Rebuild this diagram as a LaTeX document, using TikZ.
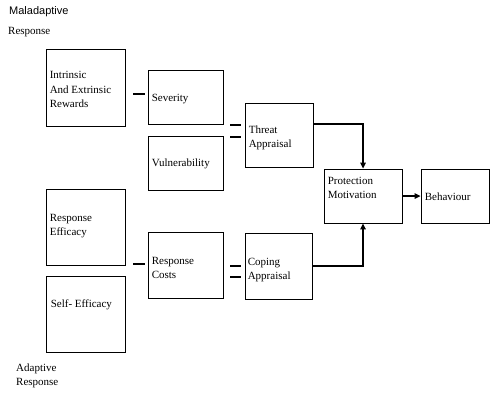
\documentclass[tikz,border=0pt]{standalone}
\usepackage{fontspec}
\setmainfont{Liberation Serif}
\newfontfamily\arialfont{Liberation Sans}
\usetikzlibrary{arrows.meta}
\begin{document}
\begin{tikzpicture}[x=1pt,y=-1pt,
	box/.style={draw,line width=0.8pt,inner sep=0pt},
	txt/.style={anchor=west,inner sep=1pt,align=left,font=\fontsize{11}{14.5}\selectfont},
	arr/.style={line width=1.3pt,-{Triangle[length=6pt,width=5.5pt]}},
	tick/.style={line width=1.8pt}]
\useasboundingbox (0,0) rectangle (490,408);
\node (mal) [anchor=west,inner sep=0pt,font=\arialfont\fontsize{11}{13}\selectfont] at (9,12) {Maladaptive};
\node (malr) [txt,inner sep=0pt] at (8,32) {Response};
\node (adp) [txt,inner sep=0pt] at (16,376) {Adaptive\\Response};
\node (irw) [box,minimum width=79,minimum height=77] at (85.5,87.5) {};
\node (sev) [box,minimum width=75,minimum height=54] at (185.5,97) {};
\node (vul) [box,minimum width=75,minimum height=54] at (185.5,163) {};
\node (ta) [box,minimum width=68,minimum height=64] at (279,135) {};
\node (pm) [box,minimum width=78,minimum height=54] at (363,196) {};
\node (beh) [box,minimum width=68,minimum height=54] at (455,196) {};
\node (re) [box,minimum width=79,minimum height=76] at (85.5,227) {};
\node (se) [box,minimum width=79,minimum height=76] at (85.5,314) {};
\node (rc) [box,minimum width=75,minimum height=66] at (185.5,265) {};
\node (ca) [box,minimum width=67,minimum height=66] at (278.5,266) {};
\node (irw-t) [txt] at ([xshift=3pt,yshift=-2pt]irw.west) {Intrinsic\\And Extrinsic\\Rewards};
\node (sev-t) [txt] at ([xshift=3pt,yshift=-2pt]sev.west) {Severity};
\node (vul-t) [txt] at ([xshift=3pt,yshift=-1pt]vul.west) {Vulnerability};
\node (ta-t) [txt] at ([xshift=3pt,yshift=-3pt]ta.west) {Threat\\Appraisal};
\node (pm-t) [txt] at ([xshift=3pt,yshift=8pt]pm.west) {Protection\\Motivation};
\node (beh-t) [txt] at ([xshift=3pt,yshift=-1pt]beh.west) {Behaviour};
\node (re-t) [txt] at ([xshift=3pt,yshift=1pt]re.west) {Response\\Efficacy};
\node (se-t) [txt] at ([xshift=4pt,yshift=9pt]se.west) {Self- Efficacy};
\node (rc-t) [txt] at ([xshift=3pt,yshift=-3pt]rc.west) {Response\\Costs};
\node (ca-t) [txt] at ([xshift=2pt,yshift=-4pt]ca.west) {Coping\\Appraisal};
\draw [tick] (133,94) -- (145,94);
\draw [tick] (230,125) -- (241,125);
\draw [tick] (230,137) -- (241,137);
\draw [tick] (133,264) -- (145,264);
\draw [tick] (230,266) -- (241,266);
\draw [tick] (230,277) -- (241,277);
\draw [arr] ([yshift=11pt]ta.east) -| (pm.north);
\draw [arr] (ca.east) -| (pm.south);
\draw [arr] (pm.east) -- (beh.west);
\end{tikzpicture}
\end{document}
